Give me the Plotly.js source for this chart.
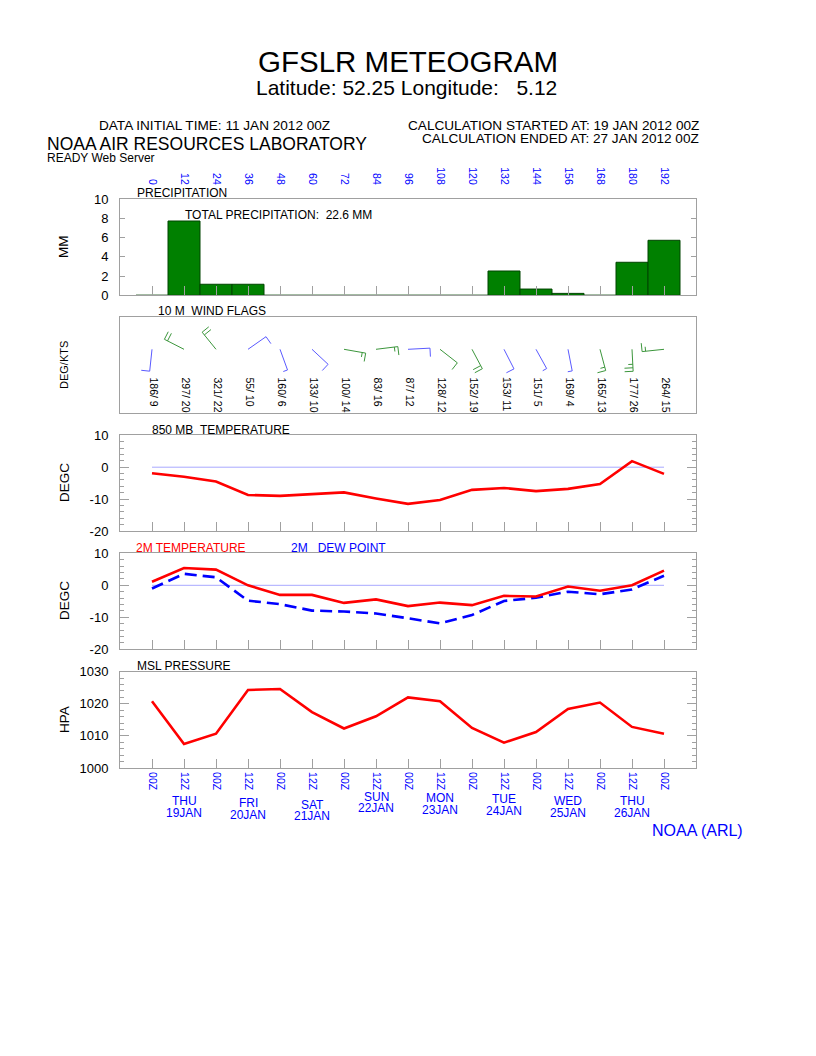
<!DOCTYPE html>
<html>
<head>
<meta charset="utf-8">
<script src="https://cdn.plot.ly/plotly-3.0.1.min.js"></script>
<style>html,body{margin:0;padding:0;background:#fff;}#chart{width:816px;height:1056px;}</style>
</head>
<body>
<div id="chart"></div>
<script>
// ---------------- DATA ----------------
const hours = [0,12,24,36,48,60,72,84,96,108,120,132,144,156,168,180,192];
const hourLabels = ['0','12','24','36','48','60','72','84','96','108','120','132','144','156','168','180','192'];
const zLabels = ['00Z','12Z','00Z','12Z','00Z','12Z','00Z','12Z','00Z','12Z','00Z','12Z','00Z','12Z','00Z','12Z','00Z'];
const precip = [0,7.74,1.15,1.15,0,0,0,0,0,0,0,2.53,0.65,0.2,0,3.44,5.73];
const windDir = [186,297,321,55,160,133,100,83,87,128,152,153,151,169,165,177,264];
const windSpd = [9,20,22,10,6,10,14,16,12,12,19,11,5,4,13,26,15];
const t850 = [-1.9,-3.0,-4.5,-8.7,-9.0,-8.4,-7.9,-9.8,-11.5,-10.3,-7.1,-6.5,-7.5,-6.8,-5.3,1.9,-2.1];
const t2m = [1.1,5.4,4.9,0.0,-3.0,-3.0,-5.5,-4.4,-6.5,-5.4,-6.2,-3.3,-3.5,-0.4,-1.7,0.0,4.6];
const td2m = [-1.0,3.6,2.5,-4.8,-5.9,-7.9,-8.2,-8.8,-10.3,-11.9,-9.3,-4.9,-3.9,-2.0,-2.8,-1.3,3.0];
const mslp = [1020.8,1007.5,1010.7,1024.3,1024.6,1017.4,1012.3,1016.1,1022.0,1020.8,1012.5,1007.9,1011.2,1018.4,1020.4,1012.8,1010.7];
const tempTicks = [-20,-10,0,10];
const tempTickText = ['-20','-10','0','10'];
const presTicks = [1000,1010,1020,1030];
const precTicks = [0,2,4,6,8,10];
const dayHours = [12,36,60,84,108,132,156,180];
const dayNames = ['THU','FRI','SAT','SUN','MON','TUE','WED','THU'];
const dayDates = ['19JAN','20JAN','21JAN','22JAN','23JAN','24JAN','25JAN','26JAN'];

// ---------------- STYLE / LAYOUT HELPERS ----------------
const FONT = 'Liberation Sans, Arial, Helvetica, sans-serif';
const GRAY = '#a0a0a0';
const BLUE = '#0000ff';
const RED = '#ff0000';
const barbColors = ['#5a5aff','#3c963c','#3c963c','#5a5aff','#5a5aff','#5a5aff','#3c963c','#3c963c','#5a5aff','#3c963c','#3c963c','#5a5aff','#5a5aff','#5a5aff','#3c963c','#3c963c','#3c963c'];
const dayLabelY = [801,803,805,796.5,798,799,801,801]; // page px of day-name line
const W = 816, H = 1056, ML = 120, MR = 120, MT = 199, MB = 288;
const PW = W - ML - MR, PH = H - MT - MB;
const XR = [-12, 204];
const pxPerHour = PW / (XR[1] - XR[0]);
function px(x){ return (x - ML) / PW; }
function py(y){ return (MT + PH - y) / PH; }
const NB = '\u00a0';

// ---------------- TRACES ----------------
const traces = [];
traces.push({type:'bar', x:hours, y:precip, width:hours.map(()=>12), xaxis:'x', yaxis:'y',
  marker:{color:'#008000', line:{color:'#004400', width:1}}, hoverinfo:'skip'});
// invisible carrier so the top hour axis is drawn
traces.push({type:'scatter', mode:'markers', x:[hours[0]], y:[precip[0]], xaxis:'x6', yaxis:'y', marker:{opacity:0, size:1}, hoverinfo:'skip'});

// wind barbs in pixel-like y units (y2 range 0..96)
const STATION_Y = 64, SHAFT = 22, FULL = 8.5, HALF = 4.5, SPACING = 3.5;
windDir.forEach((d, i) => {
  const r = d * Math.PI / 180;
  const ux = Math.sin(r), uy = Math.cos(r);
  const pxv = Math.cos(r), pyv = -Math.sin(r);
  const h0 = hours[i];
  const X = (dx) => h0 + dx / pxPerHour;
  const xs = [X(0), X(SHAFT*ux)], ys = [STATION_Y, STATION_Y + SHAFT*uy];
  const rounded = Math.round(windSpd[i] / 5) * 5;
  const nFull = Math.floor(rounded / 10);
  const half = rounded % 10 === 5;
  for (let k = 0; k < nFull; k++) {
    const bx = (SHAFT - k*SPACING) * ux, by = (SHAFT - k*SPACING) * uy;
    xs.push(null, X(bx), X(bx + FULL*pxv));
    ys.push(null, STATION_Y + by, STATION_Y + by + FULL*pyv);
  }
  if (half) {
    const bx = (SHAFT - nFull*SPACING) * ux, by = (SHAFT - nFull*SPACING) * uy;
    xs.push(null, X(bx), X(bx + HALF*pxv));
    ys.push(null, STATION_Y + by, STATION_Y + by + HALF*pyv);
  }
  traces.push({type:'scatter', mode:'lines', x:xs, y:ys, xaxis:'x2', yaxis:'y2',
    line:{color:barbColors[i], width:1}, hoverinfo:'skip', connectgaps:false});
});

const zeroX = [hours[0], hours[hours.length-1]];
traces.push({type:'scatter', mode:'lines', x:zeroX, y:[0,0], xaxis:'x3', yaxis:'y3', line:{color:'#a8a8ff', width:1}, hoverinfo:'skip'});
traces.push({type:'scatter', mode:'lines', x:hours, y:t850, xaxis:'x3', yaxis:'y3', line:{color:RED, width:2.6}, hoverinfo:'skip'});
traces.push({type:'scatter', mode:'lines', x:zeroX, y:[0,0], xaxis:'x4', yaxis:'y4', line:{color:'#a8a8ff', width:1}, hoverinfo:'skip'});
traces.push({type:'scatter', mode:'lines', x:hours, y:td2m, xaxis:'x4', yaxis:'y4', line:{color:BLUE, width:2.6, dash:'12px,6px'}, hoverinfo:'skip'});
traces.push({type:'scatter', mode:'lines', x:hours, y:t2m, xaxis:'x4', yaxis:'y4', line:{color:RED, width:2.6}, hoverinfo:'skip'});
traces.push({type:'scatter', mode:'lines', x:hours, y:mslp, xaxis:'x5', yaxis:'y5', line:{color:RED, width:2.6}, hoverinfo:'skip'});

// ---------------- AXES ----------------
function xax(anchor, extra){
  return Object.assign({range:XR, anchor:anchor, domain:[0,1], tickmode:'array', tickvals:hours,
    ticks:'inside', ticklen:9, tickcolor:GRAY, tickwidth:1, showticklabels:false,
    showline:true, linecolor:GRAY, linewidth:1, mirror:true, showgrid:false, zeroline:false, fixedrange:true}, extra||{});
}
function yax(dom, range, vals, text, extra){
  return Object.assign({domain:dom, range:range, tickmode:'array', tickvals:vals, ticktext:text,
    ticks:'inside', ticklen:9, tickcolor:GRAY, tickwidth:1,
    tickfont:{family:FONT, size:13, color:'#000'}, ticklabelstandoff:8,
    showline:true, linecolor:GRAY, linewidth:1, mirror:'ticks', showgrid:false, zeroline:false, fixedrange:true}, extra||{});
}
const minor2 = {tickmode:'linear', tick0:0, dtick:2, ticks:'inside', ticklen:4, tickcolor:GRAY, tickwidth:1, showgrid:false};

const layout = {
  width:W, height:H, margin:{l:ML, r:MR, t:MT, b:MB, pad:0},
  paper_bgcolor:'#fff', plot_bgcolor:'#fff', showlegend:false,
  font:{family:FONT, color:'#000'},
  title:{text:'GFSLR METEOGRAM', font:{family:FONT, size:29.5, color:'#000'}, x:0.5, xref:'container', xanchor:'center', y:1-62/H, yref:'container', yanchor:'middle'},
  xaxis: xax('y'),
  xaxis6: {range:XR, overlaying:'x', side:'top', anchor:'y', tickmode:'array', tickvals:hours, ticktext:hourLabels,
    tickangle:90, tickfont:{family:FONT, size:10.5, color:BLUE}, ticks:'', showline:false, showgrid:false, zeroline:false, ticklabelstandoff:12, fixedrange:true},
  xaxis2: xax('y2', {ticks:''}),
  xaxis3: xax('y3'),
  xaxis4: xax('y4'),
  xaxis5: xax('y5', {showticklabels:true, ticktext:zLabels, tickangle:90, tickfont:{family:FONT, size:10.5, color:BLUE}, ticklabelstandoff:1}),
  yaxis: yax([py(295.3), py(199.3)], [0,10], precTicks, precTicks.map(String), {ticklen:5}),
  yaxis2: yax([py(413.3), py(317.3)], [0,96], [], [], {ticks:'', showticklabels:false, mirror:true}),
  yaxis3: yax([py(531), py(435.3)], [-20,10], tempTicks, tempTickText, {minor:minor2}),
  yaxis4: yax([py(649.3), py(553.3)], [-20,10], tempTicks, tempTickText, {minor:minor2}),
  yaxis5: yax([0, py(671.7)], [1000,1030], presTicks, presTicks.map(String), {minor:minor2}),
  annotations: []
};

function ann(text, x, y, o){
  layout.annotations.push(Object.assign({text:text, x:x, y:y, xref:'paper', yref:'paper', showarrow:false,
    xanchor:'left', yanchor:'middle', borderpad:0, font:{family:FONT, size:12, color:'#000'}}, o||{}));
}
// header
ann('Latitude: 52.25 Longitude:'+NB+NB+NB+'5.12', px(406), py(88), {xanchor:'center', font:{family:FONT, size:21, color:'#000'}});
ann('DATA INITIAL TIME: 11 JAN 2012 00Z', px(214), py(125), {xanchor:'center', font:{family:FONT, size:13.6, color:'#000'}});
ann('CALCULATION STARTED AT: 19 JAN 2012 00Z', px(700), py(125), {xanchor:'right', font:{family:FONT, size:13.6, color:'#000'}});
ann('CALCULATION ENDED AT: 27 JAN 2012 00Z', px(700), py(138), {xanchor:'right', font:{family:FONT, size:13.6, color:'#000'}});
ann('NOAA AIR RESOURCES LABORATORY', px(46), py(143.5), {font:{family:FONT, size:17.5, color:'#000'}});
ann('READY Web Server', px(46), py(158), {font:{family:FONT, size:12, color:'#000'}});
ann('NOAA (ARL)', px(651), py(830), {font:{family:FONT, size:16, color:BLUE}});
// panel labels
const total = precip.reduce((a,b)=>a+b,0);
ann('PRECIPITATION', px(136), py(193.5));
ann('TOTAL PRECIPITATION:'+NB+NB+total.toFixed(1)+' MM', px(184), py(215.5));
ann('10 M'+NB+NB+'WIND FLAGS', px(157), py(311));
ann('850 MB'+NB+NB+'TEMPERATURE', px(151), py(430));
ann('2M TEMPERATURE', px(135), py(548), {font:{family:FONT, size:12, color:RED}});
ann('2M'+NB+NB+NB+'DEW POINT', px(290), py(548), {font:{family:FONT, size:12, color:BLUE}});
ann('MSL PRESSURE', px(136), py(666));
// y titles
[['MM',247,13.5],['DEG/KTS',365,11],['DEGC',483,13.5],['DEGC',601,13.5],['HPA',720,13.5]].forEach(t=>{
  ann(t[0], px(64), py(t[1]), {xanchor:'center', textangle:-90, font:{family:FONT, size:t[2], color:'#000'}});
});
// wind labels
hours.forEach((h,i)=>{
  layout.annotations.push({text:windDir[i]+'/'+NB+windSpd[i], x:h + 2.3/pxPerHour, y:37, xref:'x2', yref:'y2',
    showarrow:false, textangle:90, xanchor:'center', yanchor:'top', borderpad:0, font:{family:FONT, size:10.5, color:'#000'}});
});
// day labels
dayHours.forEach((h,i)=>{
  layout.annotations.push({text:dayNames[i], x:h, y:py(dayLabelY[i]), xref:'x5', yref:'paper', showarrow:false,
    xanchor:'center', yanchor:'middle', borderpad:0, font:{family:FONT, size:12, color:BLUE}});
  layout.annotations.push({text:dayDates[i], x:h, y:py(dayLabelY[i]+11.5), xref:'x5', yref:'paper', showarrow:false,
    xanchor:'center', yanchor:'middle', borderpad:0, font:{family:FONT, size:12, color:BLUE}});
});

Plotly.newPlot('chart', traces, layout, {staticPlot:true, displayModeBar:false});
</script>
</body>
</html>
